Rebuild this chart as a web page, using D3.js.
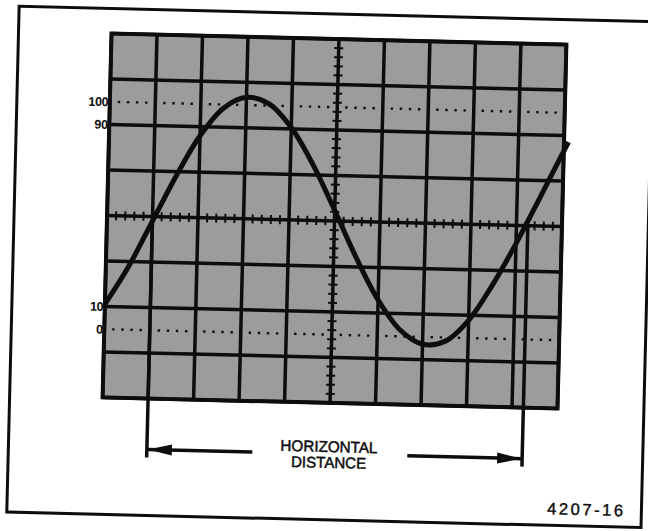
<!DOCTYPE html>
<html><head><meta charset="utf-8">
<script src="https://cdn.jsdelivr.net/npm/d3@7"></script>
<style>body{margin:0;background:#fff;overflow:hidden}</style>
</head><body><svg id="c" width="648" height="531"></svg>
<script>
// ---- data (graticule divisions) ----
const xDivs = [0,1,2,3,4,5,6,7,8,9,10];
const yDivs = [-4,-3,-2,-1,0,1,2,3,4];
const levelLabels = ["100","90","10","0"];
const levelValues = [2.5, 2, -2, -2.5];
const dottedLevels = [2.5, -2.5];
// waveform (x in divisions, y in divisions from centre)
const waveX = [0, 0.5, 1.0, 1.5, 2.0, 2.5, 3.0, 3.5, 4.0, 4.5, 5.0, 5.5, 6.0, 6.5, 7.0, 7.5, 8.0, 8.5, 9.0, 9.5, 10.0, 10.1];
const waveY = [-1.95, -1.11, -0.10, 0.91, 1.80, 2.42, 2.67, 2.54, 2.03, 1.22, 0.23, -0.80, -1.71, -2.36, -2.66, -2.58, -2.11, -1.33, -0.40, 0.62, 1.66, 1.86];
const markerX = [1.0, 9.25];
const captionLines = ["HORIZONTAL", "DISTANCE"];
const figureId = "4207-16";

const svg = d3.select("#c");
const g = svg.append("g").attr("transform", "rotate(1.4,334.5,221)");

const x = d3.scaleLinear().domain([0, 10]).range([107, 562]);
const y = d3.scaleLinear().domain([-4, 4]).range([403, 39]);
const ink = "#0d0d0d";

// outer frame
g.append("rect").attr("x", 14).attr("y", 14).attr("width", 634.4).attr("height", 506)
  .attr("fill", "none").attr("stroke", ink).attr("stroke-width", 3);

// graticule background
g.append("rect").attr("x", x(0)).attr("y", y(4)).attr("width", x(10) - x(0)).attr("height", y(-4) - y(4))
  .attr("fill", "#9c9c9c");

// dotted 0% / 100% lines
const minorX = d3.range(0, 10.001, 0.2);
const minorY = d3.range(-4, 4.001, 0.2);
dottedLevels.forEach(lv => {
  g.append("g").selectAll("rect").data(minorX).join("rect")
    .attr("x", d => x(d) - 1.2).attr("y", y(lv) - 1.2).attr("width", 2.4).attr("height", 2.4)
    .attr("fill", ink);
});

// grid lines
g.append("g").selectAll("line").data(xDivs).join("line")
  .attr("x1", d => x(d)).attr("x2", d => x(d)).attr("y1", y(-4)).attr("y2", y(4))
  .attr("stroke", ink).attr("stroke-width", 3.5);
g.append("g").selectAll("line").data(yDivs).join("line")
  .attr("x1", x(0)).attr("x2", x(10)).attr("y1", d => y(d)).attr("y2", d => y(d))
  .attr("stroke", ink).attr("stroke-width", 3.5);

// centre line minor ticks
g.append("g").selectAll("line").data(minorX).join("line")
  .attr("x1", d => x(d)).attr("x2", d => x(d)).attr("y1", y(0) - 4.5).attr("y2", y(0) + 4.5)
  .attr("stroke", ink).attr("stroke-width", 2);
g.append("g").selectAll("line").data(minorY).join("line")
  .attr("y1", d => y(d)).attr("y2", d => y(d)).attr("x1", x(5) - 4.5).attr("x2", x(5) + 4.5)
  .attr("stroke", ink).attr("stroke-width", 2);

// border
g.append("rect").attr("x", x(0)).attr("y", y(4)).attr("width", x(10) - x(0)).attr("height", y(-4) - y(4))
  .attr("fill", "none").attr("stroke", ink).attr("stroke-width", 4);

// level labels
g.append("g").selectAll("text").data(levelLabels).join("text")
  .attr("x", x(0) - 1.5).attr("y", (d, i) => y(levelValues[i]))
  .attr("dy", "0.36em").attr("text-anchor", "end")
  .attr("font-family", "Liberation Sans, Arial, sans-serif").attr("font-weight", "bold")
  .attr("font-size", 12.5).attr("letter-spacing", -0.3).attr("fill", ink).text(d => d);

// waveform
const pts = waveX.map((d, i) => [d, waveY[i]]);
g.append("path").datum(pts)
  .attr("d", d3.line().x(d => x(d[0])).y(d => y(d[1])).curve(d3.curveCatmullRom))
  .attr("fill", "none").attr("stroke", ink).attr("stroke-width", 5);

// horizontal distance markers
const arrowY = 454, markBottom = 462;
g.append("g").selectAll("line").data(markerX).join("line")
  .attr("x1", d => x(d)).attr("x2", d => x(d)).attr("y1", y(0)).attr("y2", markBottom)
  .attr("stroke", ink).attr("stroke-width", 3.5);

const leftTip = x(markerX[0]) + 1, rightTip = x(markerX[1]) - 1;
g.append("line").attr("x1", leftTip).attr("x2", 258).attr("y1", arrowY).attr("y2", arrowY)
  .attr("stroke", ink).attr("stroke-width", 3.5);
g.append("line").attr("x1", 413).attr("x2", rightTip).attr("y1", arrowY).attr("y2", arrowY)
  .attr("stroke", ink).attr("stroke-width", 3.5);
g.append("path").attr("d", `M${leftTip},${arrowY} L${leftTip + 24},${arrowY - 5.5} L${leftTip + 24},${arrowY + 5.5} Z`).attr("fill", ink);
g.append("path").attr("d", `M${rightTip},${arrowY} L${rightTip - 24},${arrowY - 5.5} L${rightTip - 24},${arrowY + 5.5} Z`).attr("fill", ink);

// caption
const capW = [97, 75];
g.append("g").selectAll("text").data(captionLines).join("text")
  .attr("x", x(5)).attr("y", (d, i) => 452 + i * 16)
  .attr("text-anchor", "middle")
  .attr("font-family", "Liberation Sans, Arial, sans-serif")
  .attr("font-size", 15.5).attr("fill", ink).attr("stroke", ink).attr("stroke-width", 0.5)
  .attr("textLength", (d, i) => capW[i]).attr("lengthAdjust", "spacingAndGlyphs")
  .text(d => d);

// figure id
g.append("text").attr("x", 554).attr("y", 509)
  .attr("font-family", "Liberation Sans, Arial, sans-serif")
  .attr("font-size", 16.5).attr("fill", ink).attr("stroke", ink).attr("stroke-width", 0.4)
  .attr("textLength", 76).attr("lengthAdjust", "spacing")
  .text(figureId);
</script></body></html>
